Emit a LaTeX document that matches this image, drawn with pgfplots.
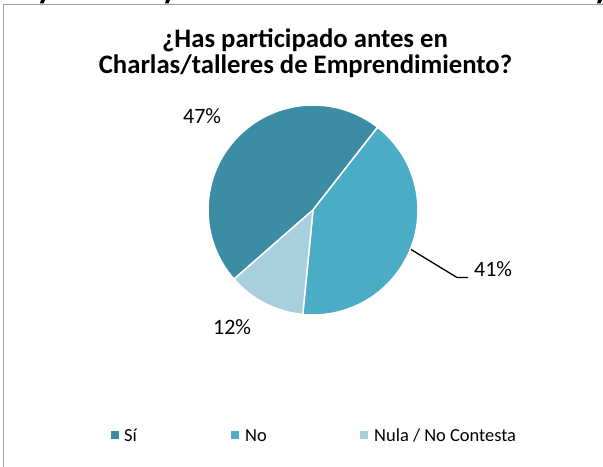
\documentclass[border=0pt]{standalone}
\usepackage{pgfplots}
\pgfplotsset{compat=1.18}
\usepackage{fontspec}
\setmainfont{Carlito}
\definecolor{cSi}{HTML}{3C8CA4}
\definecolor{cNo}{HTML}{4BACC6}
\definecolor{cNula}{HTML}{A8CFDC}
\definecolor{frame}{HTML}{A0A0A0}
% data (percent)
\def\vSi{47}
\def\vNo{41}
\def\vNula{12}
\pgfmathsetmacro\aStart{221.2}
\pgfmathsetmacro\aOne{\aStart-3.6*\vSi}
\pgfmathsetmacro\aTwo{\aOne-3.6*\vNo}
\pgfmathsetmacro\aThree{\aTwo-3.6*\vNula}
\begin{document}
\begin{tikzpicture}
\useasboundingbox (0,0) rectangle (603bp,467bp);
\begin{axis}[
  at={(0,0)}, anchor=south west,
  scale only axis, width=603bp, height=467bp,
  xmin=0, xmax=603, ymin=0, ymax=467,
  hide axis, clip=false,
]
% frame
\draw[frame, line width=1.6bp] (axis cs:3.5,-2) -- (axis cs:3.5,462.5) -- (axis cs:606,462.5);
% cut-off text fragments at top
\fill[black] (axis cs:41,467) -- (axis cs:45,467) -- (axis cs:43.5,463.5) -- (axis cs:40,463.5) -- cycle;
\fill[black] (axis cs:166,467) -- (axis cs:170,467) -- (axis cs:168.5,463.5) -- (axis cs:165,463.5) -- cycle;
\fill[black] (axis cs:598,467) -- (axis cs:602,467) -- (axis cs:600.5,463.5) -- (axis cs:597,463.5) -- cycle;
% title
\node[anchor=base, inner sep=0, font=\bfseries\fontsize{26.8}{27}\selectfont] at (axis cs:305,419) {¿Has participado antes en};
\node[anchor=base, inner sep=0, font=\bfseries\fontsize{26.8}{27}\selectfont] at (axis cs:305.5,393) {Charlas/talleres de Emprendimiento?};
% pie slices
\fill[cSi, draw=white, line width=1.5bp] (axis cs:313,257) -- ++(\aStart:105bp) arc[start angle=\aStart, end angle=\aOne, radius=105bp] -- cycle;
\fill[cNo, draw=white, line width=1.5bp] (axis cs:313,257) -- ++(\aOne:105bp) arc[start angle=\aOne, end angle=\aTwo, radius=105bp] -- cycle;
\fill[cNula, draw=white, line width=1.5bp] (axis cs:313,257) -- ++(\aTwo:105bp) arc[start angle=\aTwo, end angle=\aThree, radius=105bp] -- cycle;
% data labels
\node[anchor=base west, inner sep=0, font=\fontsize{22}{26}\selectfont] at (axis cs:183,343) {\vSi\%};
\node[anchor=base west, inner sep=0, font=\fontsize{22}{26}\selectfont] at (axis cs:474,190) {\vNo\%};
\node[anchor=base west, inner sep=0, font=\fontsize{22}{26}\selectfont] at (axis cs:213,132) {\vNula\%};
\draw[black, line width=1.3bp] (axis cs:411,217.5) -- (axis cs:457,189.5) -- (axis cs:468,189.5);
% legend
\fill[cSi] (axis cs:111,28) rectangle (axis cs:119,36);
\fill[cNo] (axis cs:231,28) rectangle (axis cs:239,36);
\fill[cNula] (axis cs:360,28) rectangle (axis cs:368,36);
\node[anchor=base west, inner sep=0, font=\fontsize{18.5}{22}\selectfont] at (axis cs:124,26) {Sí};
\node[anchor=base west, inner sep=0, font=\fontsize{18.5}{22}\selectfont] at (axis cs:245,26) {No};
\node[anchor=base west, inner sep=0, font=\fontsize{18.5}{22}\selectfont] at (axis cs:374,26) {Nula / No Contesta};
\end{axis}
\end{tikzpicture}
\end{document}
